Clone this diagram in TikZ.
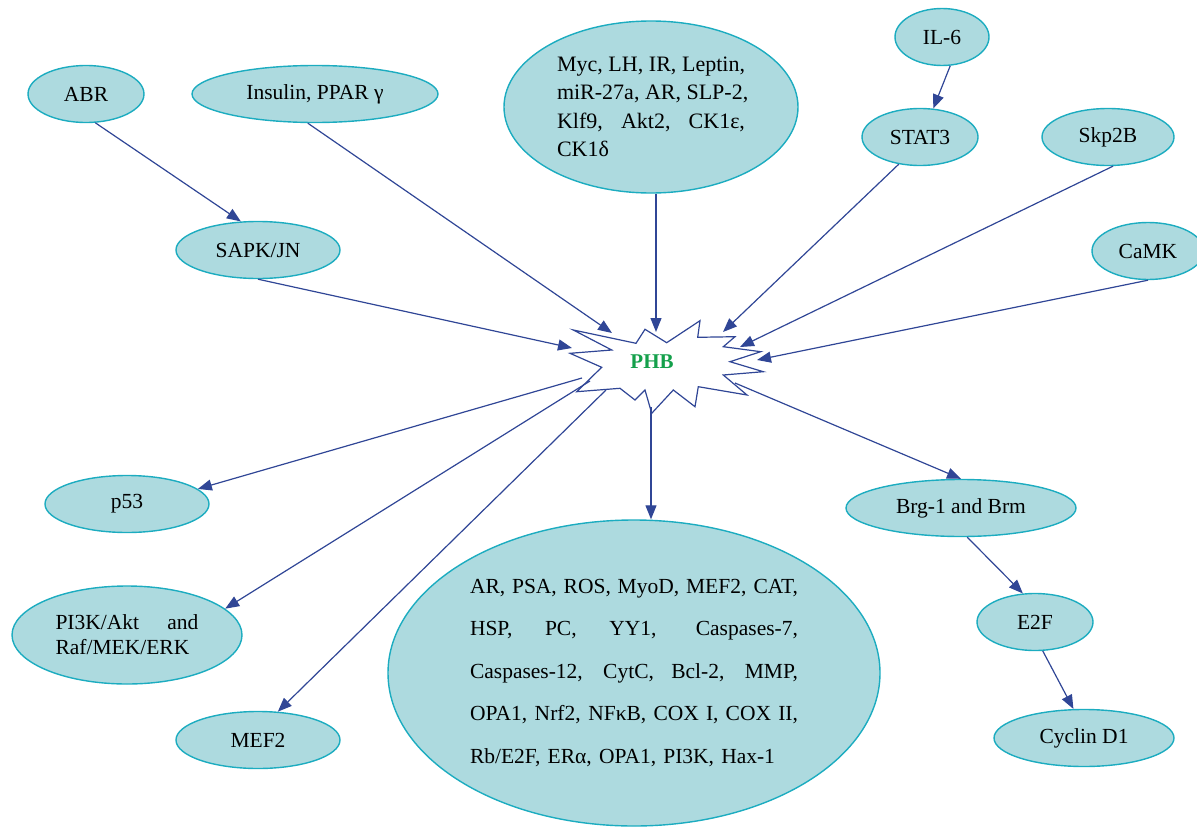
\documentclass[tikz,border=0pt]{standalone}
\usepackage{fontspec}
\setmainfont{Liberation Serif}
\usetikzlibrary{arrows.meta,shapes.geometric,calc}
\definecolor{fillc}{RGB}{173,218,223}
\definecolor{edgec}{RGB}{28,172,192}
\definecolor{arrc}{RGB}{48,70,150}
\definecolor{phbg}{RGB}{20,160,75}
\newcommand{\jline}[2]{\makebox[#1][s]{\spaceskip=.25em plus 1fil\relax #2}}
\begin{document}
\begin{tikzpicture}[x=1pt,y=-1pt,
  bub/.style={ellipse, draw=edgec, fill=fillc, line width=1.4pt, inner sep=0pt,
    font=\fontsize{21.5}{25}\selectfont},
  conn/.style={draw=arrc, line width=1.2pt, -{Triangle[length=14pt,width=11pt]}}]
\useasboundingbox (0,0) rectangle (1197,827);

% nodes
\node[bub, minimum width=116pt, minimum height=57pt] (abr) at (86,94) {ABR};
\node[bub, minimum width=246pt, minimum height=57pt] (ins) at (315,94) {Insulin, PPAR γ};
\node[bub, minimum width=294pt, minimum height=172pt, text width=188pt, align=left,
  font=\fontsize{22}{28.5}\selectfont] (top) at (651,107)
  {\jline{188pt}{Myc, LH, IR, Leptin,}\\
   \jline{188pt}{miR-27a, AR, SLP-2,}\\
   \jline{188pt}{Klf9, Akt2, CK1ε,}\\
   CK1δ};
\node[bub, minimum width=94pt, minimum height=57pt] (il6) at (942,37) {IL-6};
\node[bub, minimum width=116pt, minimum height=57pt] (stat) at (920,137) {STAT3};
\node[bub, minimum width=132pt, minimum height=57pt] (skp) at (1108,137) {Skp2B};
\node[bub, minimum width=112pt, minimum height=57pt] (camk) at (1148,251) {CaMK};
\node[bub, minimum width=164pt, minimum height=57pt] (sapk) at (258,250) {SAPK/JN};
\node[bub, minimum width=164pt, minimum height=57pt] (p53) at (127,504) {p53};
\node[bub, minimum width=230pt, minimum height=98pt, text width=143pt, align=left,
  font=\fontsize{21.5}{25}\selectfont] (pi3k) at (127,635)
  {\jline{143pt}{PI3K/Akt and}\\ Raf/MEK/ERK};
\node[bub, minimum width=164pt, minimum height=57pt] (mef) at (258,740) {MEF2};
\node[bub, minimum width=492pt, minimum height=306pt, text width=328pt, align=left,
  font=\fontsize{21.5}{42.5}\selectfont] (bot) at (634,673)
  {\jline{328pt}{AR, PSA, ROS, MyoD, MEF2, CAT,}\\
   \jline{328pt}{HSP, PC, YY1, Caspases-7,}\\
   \jline{328pt}{Caspases-12, CytC, Bcl-2, MMP,}\\
   \jline{328pt}{OPA1, Nrf2, NFκB, COX I, COX II,}\\
   Rb/E2F, ERα, OPA1, PI3K, Hax-1};
\node[bub, minimum width=230pt, minimum height=57pt] (brg) at (961,508) {Brg-1 and Brm};
\node[bub, minimum width=116pt, minimum height=57pt] (e2f) at (1035,622) {E2F};
\node[bub, minimum width=180pt, minimum height=57pt] (cyc) at (1084,738) {Cyclin D1};

% PHB star
\draw[arrc, line width=1.2pt, fill=white, line join=miter]
  (573.3,330) -- (636,343.3) -- (645,329.3) -- (666.7,342.7) -- (700,320.7)
  -- (697.7,337.3) -- (735,336.7) -- (723.3,346.7) -- (760.7,351.7)
  -- (730,361.7) -- (763.3,371.7) -- (723.3,375) -- (747,395)
  -- (698.3,386.7) -- (695,406.7) -- (673.3,390) -- (651.7,413.3)
  -- (645,390) -- (635,400) -- (620,388.3) -- (576.7,391.7)
  -- (601.7,367.3) -- (570,353.3) -- (611.7,350) -- cycle;
\node[font=\fontsize{21}{24}\selectfont\bfseries, text=phbg] (phb) at (652,362) {PHB};

% arrow ends on the star
\coordinate (inIns) at (612,333);
\coordinate (inTop) at (656,332);
\coordinate (inSapk) at (572,348);
\coordinate (inStat) at (723,332);
\coordinate (inSkp) at (740,347);
\coordinate (inCamk) at (757,360);
\coordinate (outP53) at (582,378);
\coordinate (outPi) at (590,381);
\coordinate (outMef) at (606,390);
\coordinate (outBot) at (651,407);
\coordinate (outBrg) at (735,383);

% connectors
\draw[conn] (abr.-72) -- (sapk.121);
\draw[conn] (ins.-104) -- (inIns);
\draw[conn] (inTop |- top.south) -- (inTop);
\draw[conn] (il6.-74) -- (stat.65);
\draw[conn] (stat.-128) -- (inStat);
\draw[conn] (skp.-80) -- (inSkp);
\draw[conn] (camk.south) -- (inCamk);
\draw[conn] (sapk.south) -- (inSapk);
\draw[conn] (outP53) -- (p53.12);
\draw[conn] (outPi) -- (pi3k.15);
\draw[conn] (outMef) -- (mef.55);
\draw[conn] (outBot) -- (outBot |- bot.north);
\draw[conn] (outBrg) -- (brg.north);
\draw[conn] (brg.-78) -- (e2f.113);
\draw[conn] (e2f.-75) -- (cyc.110);
\end{tikzpicture}
\end{document}
